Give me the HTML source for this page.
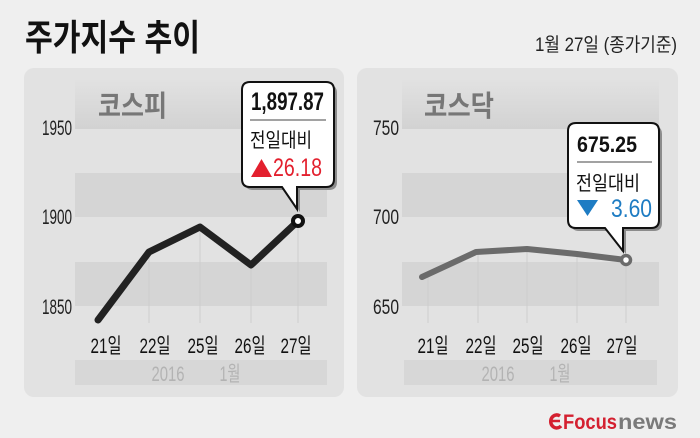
<!DOCTYPE html>
<html><head><meta charset="utf-8"><style>
html,body{margin:0;padding:0;background:#efefef;}
svg{display:block;}
text{font-family:"Liberation Sans","Noto Sans CJK KR",sans-serif;}
</style></head><body>
<svg width="700" height="438" viewBox="0 0 700 438" xmlns="http://www.w3.org/2000/svg">
<defs>
<linearGradient id="tg" x1="0" y1="0" x2="0" y2="1">
<stop offset="0" stop-color="#e2e2e2"/><stop offset="1" stop-color="#d2d2d2"/>
</linearGradient>
</defs>
<rect width="700" height="438" fill="#efefef"/>
<text x="25" y="50" font-size="36" font-weight="bold" fill="#111" textLength="175" lengthAdjust="spacingAndGlyphs">주가지수 추이</text>
<text x="535" y="51" font-size="19" fill="#222" textLength="142" lengthAdjust="spacingAndGlyphs">1월 27일 (종가기준)</text>

<!-- Left panel -->
<rect x="24" y="68" width="320" height="329" rx="10" fill="#e2e2e2"/>
<rect x="75" y="78" width="252" height="51" fill="url(#tg)"/>
<rect x="75" y="173" width="252" height="44" fill="#d5d5d5"/>
<rect x="75" y="262" width="252" height="44" fill="#d5d5d5"/>
<rect x="75" y="360" width="252" height="25" fill="#d7d7d7"/>
<text x="98" y="116" font-size="29" font-weight="bold" fill="#777" textLength="69" lengthAdjust="spacingAndGlyphs">코스피</text>
<g font-size="21" fill="#222" text-anchor="end">
<text x="72" y="135" textLength="30" lengthAdjust="spacingAndGlyphs">1950</text>
<text x="72" y="224" textLength="30" lengthAdjust="spacingAndGlyphs">1900</text>
<text x="72" y="314" textLength="30" lengthAdjust="spacingAndGlyphs">1850</text>
</g>
<g stroke="#cdcdcd" stroke-width="1">
<line x1="149" y1="252" x2="149" y2="323"/>
<line x1="200" y1="227" x2="200" y2="323"/>
<line x1="251" y1="265" x2="251" y2="323"/>
<line x1="298" y1="221" x2="298" y2="323"/>
</g>
<polyline points="98,320 149,252 200,227 251,265 298,221" fill="none" stroke="#222" stroke-width="7" stroke-linecap="round" stroke-linejoin="round"/>
<g font-size="21" fill="#111" text-anchor="middle">
<text x="106" y="353" textLength="31" lengthAdjust="spacingAndGlyphs">21일</text>
<text x="155" y="353" textLength="31" lengthAdjust="spacingAndGlyphs">22일</text>
<text x="203" y="353" textLength="31" lengthAdjust="spacingAndGlyphs">25일</text>
<text x="250" y="353" textLength="31" lengthAdjust="spacingAndGlyphs">26일</text>
<text x="296" y="353" textLength="31" lengthAdjust="spacingAndGlyphs">27일</text>
</g>
<g font-size="21" fill="#b3b3b3" text-anchor="middle">
<text x="168" y="381" textLength="33" lengthAdjust="spacingAndGlyphs">2016</text>
<text x="230" y="381" textLength="21" lengthAdjust="spacingAndGlyphs">1월</text>
</g>
<!-- left callout -->
<path d="M250,82 H326 Q334,82 334,90 V179 Q334,187 326,187 H297 V209 L282,187 H250 Q242,187 242,179 V90 Q242,82 250,82 Z" transform="translate(3,3)" fill="#8c8c8c"/>
<path d="M250,82 H326 Q334,82 334,90 V179 Q334,187 326,187 H297 V209 L282,187 H250 Q242,187 242,179 V90 Q242,82 250,82 Z" fill="#fff" stroke="#111" stroke-width="2"/>
<text x="251" y="110" font-size="25" font-weight="bold" fill="#111" textLength="73" lengthAdjust="spacingAndGlyphs">1,897.87</text>
<line x1="250" y1="120" x2="326" y2="120" stroke="#444" stroke-width="1"/>
<text x="250" y="147" font-size="20" fill="#111" textLength="62" lengthAdjust="spacingAndGlyphs">전일대비</text>
<polygon points="251,177 272,177 261.5,159" fill="#e3202e"/>
<text x="273" y="176" font-size="25" fill="#e3202e" textLength="49" lengthAdjust="spacingAndGlyphs">26.18</text>
<circle cx="298" cy="221" r="5" fill="#fff" stroke="#111" stroke-width="4"/>

<!-- Right panel -->
<rect x="357" y="68" width="321" height="329" rx="10" fill="#e2e2e2"/>
<rect x="402" y="78" width="257" height="51" fill="url(#tg)"/>
<rect x="402" y="173" width="257" height="44" fill="#d5d5d5"/>
<rect x="402" y="262" width="257" height="44" fill="#d5d5d5"/>
<rect x="404" y="360" width="253" height="25" fill="#d7d7d7"/>
<text x="424" y="116" font-size="29" font-weight="bold" fill="#777" textLength="70" lengthAdjust="spacingAndGlyphs">코스닥</text>
<g font-size="21" fill="#222" text-anchor="end">
<text x="399" y="135" textLength="26" lengthAdjust="spacingAndGlyphs">750</text>
<text x="399" y="224" textLength="26" lengthAdjust="spacingAndGlyphs">700</text>
<text x="399" y="314" textLength="26" lengthAdjust="spacingAndGlyphs">650</text>
</g>
<g stroke="#cdcdcd" stroke-width="1">
<line x1="428" y1="277" x2="428" y2="323"/>
<line x1="478" y1="252" x2="478" y2="323"/>
<line x1="527" y1="249" x2="527" y2="323"/>
<line x1="577" y1="254" x2="577" y2="323"/>
<line x1="626" y1="260" x2="626" y2="323"/>
</g>
<polyline points="422,277 476,252 527,249 577,254 626,260" fill="none" stroke="#6b6b6b" stroke-width="6" stroke-linecap="round" stroke-linejoin="round"/>
<g font-size="21" fill="#111" text-anchor="middle">
<text x="433" y="353" textLength="31" lengthAdjust="spacingAndGlyphs">21일</text>
<text x="481" y="353" textLength="31" lengthAdjust="spacingAndGlyphs">22일</text>
<text x="528" y="353" textLength="31" lengthAdjust="spacingAndGlyphs">25일</text>
<text x="576" y="353" textLength="31" lengthAdjust="spacingAndGlyphs">26일</text>
<text x="622" y="353" textLength="31" lengthAdjust="spacingAndGlyphs">27일</text>
</g>
<g font-size="21" fill="#b3b3b3" text-anchor="middle">
<text x="498" y="381" textLength="33" lengthAdjust="spacingAndGlyphs">2016</text>
<text x="560" y="381" textLength="21" lengthAdjust="spacingAndGlyphs">1월</text>
</g>
<!-- right callout -->
<path d="M576,123 H651 Q659,123 659,131 V220 Q659,228 651,228 H623 V251 L605,228 H576 Q568,228 568,220 V131 Q568,123 576,123 Z" transform="translate(3,3)" fill="#8c8c8c"/>
<path d="M576,123 H651 Q659,123 659,131 V220 Q659,228 651,228 H623 V251 L605,228 H576 Q568,228 568,220 V131 Q568,123 576,123 Z" fill="#fff" stroke="#111" stroke-width="2"/>
<text x="577" y="152" font-size="22" font-weight="bold" fill="#111" textLength="60" lengthAdjust="spacingAndGlyphs">675.25</text>
<line x1="577" y1="162" x2="652" y2="162" stroke="#444" stroke-width="1"/>
<text x="576" y="190" font-size="20" fill="#111" textLength="64" lengthAdjust="spacingAndGlyphs">전일대비</text>
<polygon points="577,200 598,200 587.5,216" fill="#1e7cc3"/>
<text x="611" y="217" font-size="25" fill="#1e7cc3" textLength="41" lengthAdjust="spacingAndGlyphs">3.60</text>
<circle cx="626" cy="260" r="4.5" fill="#fff" stroke="#6b6b6b" stroke-width="3.5"/>

<!-- logo -->
<path d="M560,416 A6,6.5 0 1 0 561,426" fill="none" stroke="#d42030" stroke-width="3.5"/>
<path d="M552,421 H560" stroke="#d42030" stroke-width="2.5"/>
<text x="563" y="429" font-size="21" font-weight="bold" fill="#d42030" textLength="54" lengthAdjust="spacingAndGlyphs">Focus</text>
<text x="618" y="429" font-size="21" font-weight="bold" fill="#7a7a7a" textLength="59" lengthAdjust="spacingAndGlyphs">news</text>
</svg>
</body></html>
